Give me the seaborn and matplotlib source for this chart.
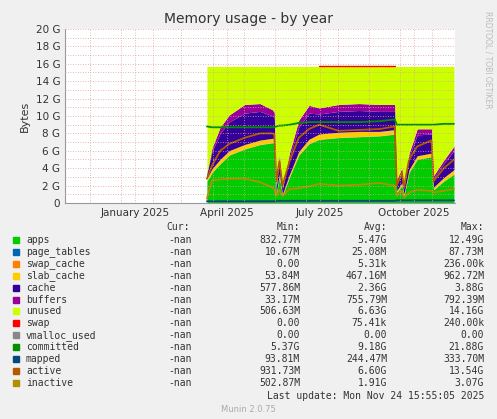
import matplotlib
matplotlib.use("Agg")
import matplotlib.pyplot as plt
import matplotlib.dates as mdates
import numpy as np
import pandas as pd
import seaborn as sns

sns.set_style("white")
plt.rcParams['font.family'] = ['DejaVu Sans']

dates = pd.to_datetime(["2025-03-26","2025-03-31","2025-04-08","2025-04-17","2025-05-02","2025-05-17",
    "2025-05-29","2025-05-31","2025-06-02","2025-06-05","2025-06-08","2025-06-15","2025-06-24","2025-07-04",
    "2025-07-14","2025-08-02","2025-08-22","2025-09-11","2025-09-26","2025-09-28","2025-10-03","2025-10-05",
    "2025-10-10","2025-10-18","2025-11-01","2025-11-03","2025-11-13","2025-11-23"])
apps = [2.5,3.5,4.5,5.5,6.2,6.7,6.9,6.9,1.0,3.0,0.8,3.0,5.5,6.8,7.3,7.5,7.6,7.7,7.9,1.2,2.0,0.8,3.5,5.0,5.3,1.5,2.5,3.3]
page_tables = [0.03]*28
swap_cache = [0.0]*28
slab_cache = [0.3,0.4,0.5,0.5,0.5,0.5,0.5,0.5,0.2,0.3,0.2,0.3,0.4,0.5,0.6,0.6,0.6,0.5,0.5,0.2,0.3,0.2,0.3,0.4,0.4,0.3,0.4,0.5]
cache = [0.5,2.0,3.0,3.3,3.6,3.3,2.6,2.4,0.6,1.8,0.6,2.0,2.8,3.0,2.3,2.4,2.4,2.3,2.1,1.0,1.3,0.6,1.5,2.4,2.2,1.0,1.6,2.2]
buffers = [0.1,0.4,0.7,0.8,1.0,0.9,0.7,0.6,0.2,0.5,0.2,0.5,0.8,0.9,0.7,0.8,0.8,0.8,0.8,0.3,0.4,0.2,0.4,0.7,0.6,0.3,0.4,0.5]
total_ram = 15.7
swap = [0,0,0,0,0,0,0.0002,0,0,0,0,0,0,0,0.0002,0.0002,0.0002,0.0002,0.0002,0,0,0,0,0,0,0,0,0]
vmalloc_used = [0.0]*28
committed = [8.8,8.7,8.7,8.7,8.7,8.7,8.7,8.7,8.8,8.9,8.9,9.0,9.2,9.3,9.3,9.3,9.3,9.4,9.6,9.0,9.0,9.0,9.0,9.0,9.0,9.0,9.1,9.1]
mapped = [0.2,0.2,0.2,0.2,0.2,0.2,0.2,0.2,0.25,0.25,0.25,0.25,0.25,0.25,0.25,0.25,0.25,0.25,0.25,0.3,0.3,0.3,0.3,0.3,0.3,0.3,0.3,0.3]
active = [2.8,4.3,6.0,6.8,7.5,8.0,8.0,7.9,2.5,4.8,2.0,4.8,7.5,8.5,9.0,8.3,8.4,8.5,8.8,2.0,3.5,1.8,5.0,6.5,7.2,2.5,4.0,5.0]
inactive = [0.5,2.6,2.7,2.8,2.8,2.4,1.8,1.6,0.8,1.5,0.8,1.6,1.7,1.9,2.2,2.0,2.1,2.3,2.0,0.8,1.4,0.6,1.2,1.5,1.4,1.2,1.4,1.6]

legend_rows = [
 ("apps","#00CC00","-nan","832.77M","5.47G","12.49G"),
 ("page_tables","#0066B3","-nan","10.67M","25.08M","87.73M"),
 ("swap_cache","#FF8000","-nan","0.00","5.31k","236.00k"),
 ("slab_cache","#FFCC00","-nan","53.84M","467.16M","962.72M"),
 ("cache","#330099","-nan","577.86M","2.36G","3.88G"),
 ("buffers","#990099","-nan","33.17M","755.79M","792.39M"),
 ("unused","#CCFF00","-nan","506.63M","6.63G","14.16G"),
 ("swap","#FF0000","-nan","0.00","75.41k","240.00k"),
 ("vmalloc_used","#888888","-nan","0.00","0.00","0.00"),
 ("committed","#008F00","-nan","5.37G","9.18G","21.88G"),
 ("mapped","#00487D","-nan","93.81M","244.47M","333.70M"),
 ("active","#B35A00","-nan","931.73M","6.60G","13.54G"),
 ("inactive","#B38F00","-nan","502.87M","1.91G","3.07G"),
]
colors = {r[0]: r[1] for r in legend_rows}

fig = plt.figure(figsize=(4.97, 4.19), dpi=100, facecolor="#F0F0F0")
ax = fig.add_axes([65/497, 1-203/419, 390/497, 174/419])
ax.set_facecolor("white")

stack_names = ["apps","page_tables","swap_cache","slab_cache","cache","buffers"]
stack_vals = [apps,page_tables,swap_cache,slab_cache,cache,buffers]
base = np.zeros(len(dates))
for n, v in zip(stack_names, stack_vals):
    v = np.array(v)
    ax.fill_between(dates, base, base+v, color=colors[n], lw=0)
    base = base + v
unused = total_ram - base
ax.fill_between(dates, base, base+unused, color=colors["unused"], lw=0)
top = base + unused
sw = np.array(swap)
ax.plot(dates, np.where(sw > 0, top + 0.02, np.nan), color=colors["swap"], lw=1)
ax.plot(dates, committed, color=colors["committed"], lw=1.3)
ax.plot(dates, mapped, color=colors["mapped"], lw=1.3)
ax.plot(dates, active, color=colors["active"], lw=1.3)
ax.plot(dates, inactive, color=colors["inactive"], lw=1.3)

ax.set_xlim(pd.Timestamp("2024-11-07"), pd.Timestamp("2025-11-24"))
ax.set_ylim(0, 20)
ax.set_yticks(range(0, 21, 2))
ax.set_yticklabels([f"{i} G" if i else "0" for i in range(0, 21, 2)], fontsize=7.5, color="#333333")
ax.set_yticks(np.arange(0, 20, 1), minor=True)
ax.xaxis.set_major_locator(mdates.MonthLocator(bymonth=[1,4,7,10], bymonthday=15))
ax.xaxis.set_major_formatter(mdates.DateFormatter("%B %Y"))
ax.xaxis.set_minor_locator(mdates.MonthLocator(bymonthday=1))
ax.tick_params(axis="x", labelsize=7.5, colors="#333333", length=0)
ax.tick_params(axis="y", length=0)
ax.grid(True, which="both", color="#E0A0A0", ls=(0,(1,2)), lw=0.6)
ax.set_axisbelow(False)
for s in ["top","right"]:
    ax.spines[s].set_visible(False)
ax.spines["left"].set_color("#999999")
ax.spines["bottom"].set_color("#999999")
ax.set_ylabel("Bytes", fontsize=8, color="#333333")

fig.text(0.5, 1-19/419, "Memory usage - by year", ha="center", va="center", fontsize=10, color="#333333")
fig.text(488/497, 1-60/419, "RRDTOOL / TOBI OETIKER", rotation=270, ha="center", va="center", fontsize=5.5, color="#BBBBBB")

mono = {"family": "DejaVu Sans Mono", "size": 7}
y0 = 227
fig.text(190/497, 1-y0/419, "Cur:", ha="right", va="center", color="#333333", **mono)
fig.text(300/497, 1-y0/419, "Min:", ha="right", va="center", color="#333333", **mono)
fig.text(387/497, 1-y0/419, "Avg:", ha="right", va="center", color="#333333", **mono)
fig.text(484/497, 1-y0/419, "Max:", ha="right", va="center", color="#333333", **mono)
for i, (n, c, cur, mn, av, mx) in enumerate(legend_rows):
    y = 1 - (240 + i*11.9)/419
    fig.patches.append(plt.Rectangle((13/497, y-3/419), 6/497, 6/419, transform=fig.transFigure, color=c))
    fig.text(26/497, y, n, va="center", color="#333333", **mono)
    fig.text(192/497, y, cur, ha="right", va="center", color="#333333", **mono)
    fig.text(300/497, y, mn, ha="right", va="center", color="#333333", **mono)
    fig.text(387/497, y, av, ha="right", va="center", color="#333333", **mono)
    fig.text(484/497, y, mx, ha="right", va="center", color="#333333", **mono)
fig.text(484/497, 1-396/419, "Last update: Mon Nov 24 15:55:05 2025", ha="right", va="center", color="#333333", **mono)
fig.text(0.5, 1-409/419, "Munin 2.0.75", ha="center", va="center", fontsize=6, color="#AAAAAA")

fig.savefig("out.png", dpi=100, facecolor=fig.get_facecolor())
